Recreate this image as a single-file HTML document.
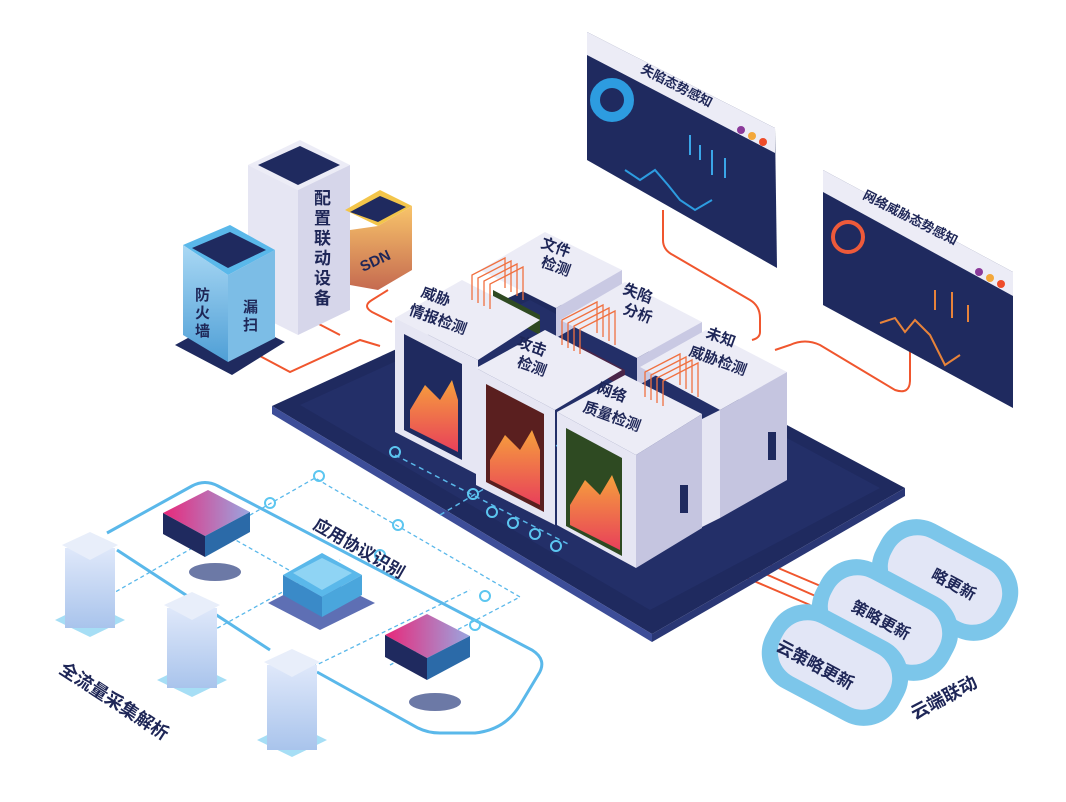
<!DOCTYPE html>
<html><head><meta charset="utf-8"><style>
html,body{margin:0;padding:0;background:#fff;}
svg{display:block;}
text{font-family:"Liberation Sans","Noto Sans CJK SC",sans-serif;font-weight:bold;fill:#1e2657;}
</style></head><body>
<svg width="1066" height="802" viewBox="0 0 1066 802" xmlns="http://www.w3.org/2000/svg">
<defs>
<linearGradient id="scr" x1="0" y1="0" x2="0" y2="1"><stop offset="0" stop-color="#f6a03c"/><stop offset="1" stop-color="#e8405a"/></linearGradient>
<linearGradient id="pink" x1="0" y1="0" x2="1" y2="0"><stop offset="0" stop-color="#e8287a"/><stop offset="1" stop-color="#9aa6e0"/></linearGradient>
<linearGradient id="fw" x1="0" y1="0" x2="0" y2="1"><stop offset="0" stop-color="#a9d8f4"/><stop offset="1" stop-color="#4f9fd6"/></linearGradient>
<linearGradient id="sdn" x1="0" y1="0" x2="0" y2="1"><stop offset="0" stop-color="#f8c46a"/><stop offset="1" stop-color="#c56a50"/></linearGradient>
<linearGradient id="tw" x1="0" y1="0" x2="0" y2="1"><stop offset="0" stop-color="#dfe8fa"/><stop offset="1" stop-color="#a9c4ec"/></linearGradient>
</defs>

<!-- orange connector lines -->
<g fill="none" stroke="#f0562e" stroke-width="2">
<path d="M663 210 L663 240 Q663 250 673 255 L750 300 Q760 306 760 318 L760 332 Q760 338 752 340"/>
<path d="M910 350 L910 380 Q910 395 895 390 L820 345 Q805 338 790 345 L775 350"/>
<path d="M258 355 L290 372 L360 340 L380 346"/>
<path d="M388 290 L372 300 Q362 306 372 312 L392 322"/>
<path d="M315 322 L340 335"/>
<path d="M740 575 L810 605 M752 568 L820 598 M764 562 L830 590"/>
</g>

<!-- platform -->
<polygon points="272,406 530,288 905,488 652,634" fill="#1f2a5f"/>
<polygon points="272,406 652,634 652,642 272,414" fill="#3d4d98"/>
<polygon points="652,634 905,488 905,496 652,642" fill="#2a3775"/>
<polygon points="300,405 530,300 880,488 650,610" fill="#232f68"/>

<g stroke="#5ab8ea" stroke-width="1.5" stroke-dasharray="5,4" fill="none">
<path d="M395 455 L570 545"/>
<path d="M440 515 L600 420"/>
</g>
<g fill="none" stroke="#5cc6f0" stroke-width="2">
<circle cx="395" cy="452" r="5"/><circle cx="473" cy="494" r="5"/><circle cx="492" cy="512" r="5"/><circle cx="513" cy="523" r="5"/><circle cx="535" cy="534" r="5"/><circle cx="556" cy="546" r="5"/>
</g>

<!-- cube 5 文件 -->
<polygon points="480,270 545,232 622,270 556,308" fill="#ececf6"/>
<polygon points="556,308 622,270 622,300 556,338" fill="#c9c9e3"/>
<!-- cube 6 失陷 -->
<polygon points="560,320 625,282 702,322 637,358" fill="#ececf6"/>
<polygon points="637,358 702,322 702,350 637,386" fill="#c9c9e3"/>
<polygon points="493,290 540,315 540,335 493,310" fill="#2f4a22"/>
<polygon points="578,345 625,370 625,388 578,362" fill="#4a2548"/>

<!-- cube 1 -->
<polygon points="395,318 462,280 540,320 478,360" fill="#ececf6"/>
<polygon points="395,318 478,360 478,475 395,432" fill="#e6e6f3"/>
<polygon points="404,334 462,364 462,460 404,430" fill="#1f2a5f"/>
<polygon points="410,410 425,385 440,400 452,380 458,400 458,452 410,428" fill="url(#scr)"/>
<!-- cube 4 -->
<polygon points="640,367 706,330 787,372 720,410" fill="#ececf6"/>
<polygon points="720,410 787,372 787,480 720,518" fill="#c5c5e0"/>
<polygon points="700,420 720,410 720,518 700,528" fill="#e6e6f3"/>
<rect x="768" y="432" width="8" height="28" fill="#1f2a5f"/>
<!-- cube 2 -->
<polygon points="476,368 545,330 622,370 555,410" fill="#ececf6"/>
<polygon points="476,368 555,410 555,525 476,485" fill="#e6e6f3"/>
<polygon points="486,384 544,414 544,512 486,482" fill="#5a1f1f"/>
<polygon points="490,460 505,435 520,450 532,430 540,450 540,505 490,480" fill="url(#scr)"/>
<!-- cube 3 -->
<polygon points="557,412 625,375 702,414 636,455" fill="#ececf6"/>
<polygon points="557,412 636,455 636,568 557,525" fill="#e6e6f3"/>
<polygon points="636,455 702,414 702,528 636,568" fill="#c5c5e0"/>
<polygon points="566,428 622,458 622,556 566,526" fill="#2e4a22"/>
<polygon points="570,505 585,480 600,495 612,475 620,495 620,550 570,525" fill="url(#scr)"/>
<rect x="680" y="485" width="8" height="28" fill="#1f2a5f"/>

<g fill="none" stroke="#f07040" stroke-width="1.3">
<path d="M472 300 V275 L505 258 L505 288"/><path d="M478 303 V278 L511 261 L511 292"/><path d="M484 306 V281 L517 264 L517 296"/><path d="M490 309 V284 L523 267 L523 300"/>
<path d="M562 345 V320 L597 302 L597 333"/><path d="M568 348 V323 L603 305 L603 337"/><path d="M574 351 V326 L609 308 L609 341"/><path d="M580 354 V329 L615 311 L615 345"/>
<path d="M645 397 V372 L680 354 L680 385"/><path d="M651 400 V375 L686 357 L686 389"/><path d="M657 403 V378 L692 360 L692 393"/><path d="M663 406 V381 L698 363 L698 397"/>
</g>

<text x="540" y="247" font-size="15" transform="rotate(20 540 247)">文件</text>
<text x="540" y="266" font-size="15" transform="rotate(20 540 266)">检测</text>
<text x="420" y="296" font-size="15" transform="rotate(20 420 296)">威胁</text>
<text x="408" y="314" font-size="15" transform="rotate(20 408 314)">情报检测</text>
<text x="622" y="293" font-size="15" transform="rotate(20 622 293)">失陷</text>
<text x="622" y="313" font-size="15" transform="rotate(20 622 313)">分析</text>
<text x="516" y="346" font-size="15" transform="rotate(20 516 346)">攻击</text>
<text x="516" y="366" font-size="15" transform="rotate(20 516 366)">检测</text>
<text x="705" y="337" font-size="15" transform="rotate(20 705 337)">未知</text>
<text x="688" y="355" font-size="15" transform="rotate(20 688 355)">威胁检测</text>
<text x="596" y="392" font-size="15" transform="rotate(20 596 392)">网络</text>
<text x="582" y="411" font-size="15" transform="rotate(20 582 411)">质量检测</text>

<!-- monitor 1 -->
<polygon points="587,32 775,128 777,268 587,160" fill="#1f2a5f"/>
<polygon points="587,32 775,128 775,153 587,55" fill="#ececf6"/>
<text x="640" y="72" font-size="13" transform="rotate(27 640 72)">失陷态势感知</text>
<circle cx="741" cy="130" r="4" fill="#8a3a9a"/><circle cx="752" cy="136" r="4" fill="#f3a73a"/><circle cx="763" cy="142" r="4" fill="#ee4c2a"/>
<circle cx="612" cy="100" r="17" fill="none" stroke="#2d9ce0" stroke-width="10"/>
<polyline points="625,170 640,180 655,170 668,185 680,200 695,210 712,200" fill="none" stroke="#2d9ce0" stroke-width="2"/>
<g stroke="#3aa6e8" stroke-width="2"><line x1="690" y1="135" x2="690" y2="155"/><line x1="700" y1="145" x2="700" y2="160"/><line x1="712" y1="150" x2="712" y2="175"/><line x1="725" y1="158" x2="725" y2="178"/></g>
<!-- monitor 2 -->
<polygon points="823,170 1013,272 1013,408 823,305" fill="#1f2a5f"/>
<polygon points="823,170 1013,272 1013,296 823,192" fill="#ececf6"/>
<text x="862" y="198" font-size="13" transform="rotate(27 862 198)">网络威胁态势感知</text>
<circle cx="979" cy="272" r="4" fill="#8a3a9a"/><circle cx="990" cy="278" r="4" fill="#f3a73a"/><circle cx="1001" cy="284" r="4" fill="#ee4c2a"/>
<circle cx="848" cy="237" r="15" fill="none" stroke="#ee5a3a" stroke-width="4"/>
<polyline points="880,323 895,318 905,332 915,320 930,335 945,365 960,355" fill="none" stroke="#e8833a" stroke-width="2"/>
<g stroke="#e8833a" stroke-width="2"><line x1="935" y1="290" x2="935" y2="310"/><line x1="952" y1="292" x2="952" y2="318"/><line x1="968" y1="305" x2="968" y2="322"/></g>

<!-- 配置联动设备 (behind firewall) -->
<polygon points="248,165 300,140 350,165 298,190" fill="#ececf6"/>
<polygon points="248,165 298,190 298,335 248,310" fill="#e6e6f3"/>
<polygon points="298,190 350,165 350,310 298,335" fill="#d6d6ea"/>
<polygon points="258,165 300,146 340,165 298,185" fill="#1f2a5f"/>
<g font-size="17"><text x="314" y="204">配</text><text x="314" y="224">置</text><text x="314" y="244">联</text><text x="314" y="264">动</text><text x="314" y="284">设</text><text x="314" y="304">备</text></g>
<!-- SDN -->
<polygon points="345,210 380,190 412,206 378,226" fill="#f3c54a"/>
<polygon points="350,212 380,196 406,207 378,222" fill="#1f2a5f"/>
<polygon points="350,230 378,226 412,206 412,270 378,290 350,285" fill="url(#sdn)"/>
<text x="363" y="272" font-size="15" transform="rotate(-25 363 272)">SDN</text>
<!-- firewall -->
<polygon points="175,345 230,315 285,342 232,375" fill="#1f2a5f"/>
<polygon points="183,245 230,225 275,250 228,275" fill="#5ab8ea"/>
<polygon points="183,245 228,275 228,362 183,335" fill="url(#fw)"/>
<polygon points="228,275 275,250 275,338 228,362" fill="#7cbde6"/>
<polygon points="192,248 230,232 266,250 228,268" fill="#1f2a5f"/>
<text x="195" y="300" font-size="15">防</text><text x="195" y="318" font-size="15">火</text><text x="195" y="336" font-size="15">墙</text>
<text x="243" y="312" font-size="15">漏</text><text x="243" y="330" font-size="15">扫</text>

<!-- bottom-left network -->
<path d="M107 533 L192 486 Q205 479 218 486 L532 650 Q548 660 538 675 L520 705 Q505 730 475 733 L440 733 Q428 733 418 728 L317 672" fill="none" stroke="#5ab8ea" stroke-width="3"/>
<path d="M117 550 L270 650" fill="none" stroke="#5ab8ea" stroke-width="3"/>
<g stroke="#5ab8ea" stroke-width="1.3" stroke-dasharray="4,3" fill="none">
<path d="M110 595 L315 478 L520 597 L390 665"/>
<path d="M205 635 L340 560 M300 673 L470 590 M200 520 L360 610"/>
</g>
<g fill="none" stroke="#5cc6f0" stroke-width="2"><circle cx="319" cy="476" r="5"/><circle cx="270" cy="503" r="5"/><circle cx="398" cy="525" r="5"/><circle cx="380" cy="555" r="5"/><circle cx="485" cy="596" r="5"/><circle cx="475" cy="625" r="5"/></g>
<!-- chips -->
<polygon points="163,513 208,490 250,512 205,536" fill="url(#pink)"/>
<polygon points="163,513 205,536 205,557 163,534" fill="#1f2a5f"/>
<polygon points="205,536 250,512 250,532 205,557" fill="#2b6aa8"/>
<ellipse cx="215" cy="572" rx="26" ry="9" fill="#6c79a6"/>
<polygon points="385,635 427,614 470,636 427,658" fill="url(#pink)"/>
<polygon points="385,635 427,658 427,680 385,657" fill="#1f2a5f"/>
<polygon points="427,658 470,636 470,657 427,680" fill="#2b6aa8"/>
<ellipse cx="435" cy="702" rx="26" ry="9" fill="#6c79a6"/>
<!-- processor -->
<polygon points="268,603 320,576 375,603 320,630" fill="#5e6fb4"/>
<polygon points="283,575 322,553 362,575 322,597" fill="#5ab8ea"/>
<polygon points="283,575 322,597 322,617 283,595" fill="#3a8ac8"/>
<polygon points="322,597 362,575 362,595 322,617" fill="#4aa6dc"/>
<polygon points="293,573 322,558 352,573 322,590" fill="#8fd4f4"/>
<!-- towers -->
<g>
<polygon points="55,620 90,603 125,620 90,637" fill="#6ac8ee" opacity="0.6"/>
<rect x="65" y="548" width="50" height="80" fill="url(#tw)"/>
<polygon points="62,545 90,532 118,545 90,560" fill="#e8eefa"/>
<polygon points="157,680 192,663 227,680 192,697" fill="#6ac8ee" opacity="0.6"/>
<rect x="167" y="608" width="50" height="80" fill="url(#tw)"/>
<polygon points="164,605 192,592 220,605 192,620" fill="#e8eefa"/>
<polygon points="257,740 292,723 327,740 292,757" fill="#6ac8ee" opacity="0.6"/>
<rect x="267" y="665" width="50" height="85" fill="url(#tw)"/>
<polygon points="264,662 292,649 320,662 292,677" fill="#e8eefa"/>
</g>
<text x="312" y="528" font-size="17" transform="rotate(30 312 528)">应用协议识别</text>
<text x="58" y="672" font-size="18" transform="rotate(33 58 672)">全流量采集解析</text>

<!-- clouds -->
<g>
<rect x="870" y="535" width="150" height="90" rx="40" fill="#7cc6ea" transform="rotate(28 945 580)"/>
<rect x="885" y="550" width="120" height="60" rx="28" fill="#e2e6f6" transform="rotate(28 945 580)"/>
<rect x="810" y="575" width="150" height="90" rx="40" fill="#7cc6ea" transform="rotate(28 885 620)"/>
<rect x="825" y="590" width="120" height="60" rx="28" fill="#e2e6f6" transform="rotate(28 885 620)"/>
<rect x="760" y="620" width="150" height="90" rx="40" fill="#7cc6ea" transform="rotate(28 835 665)"/>
<rect x="775" y="635" width="120" height="60" rx="28" fill="#e2e6f6" transform="rotate(28 835 665)"/>
</g>
<text x="930" y="578" font-size="16" transform="rotate(28 930 578)">略更新</text>
<text x="850" y="610" font-size="16" transform="rotate(28 850 610)">策略更新</text>
<text x="775" y="650" font-size="17" transform="rotate(28 775 650)">云策略更新</text>
<text x="915" y="720" font-size="18" transform="rotate(-28 915 720)">云端联动</text>
</svg>
</body></html>
